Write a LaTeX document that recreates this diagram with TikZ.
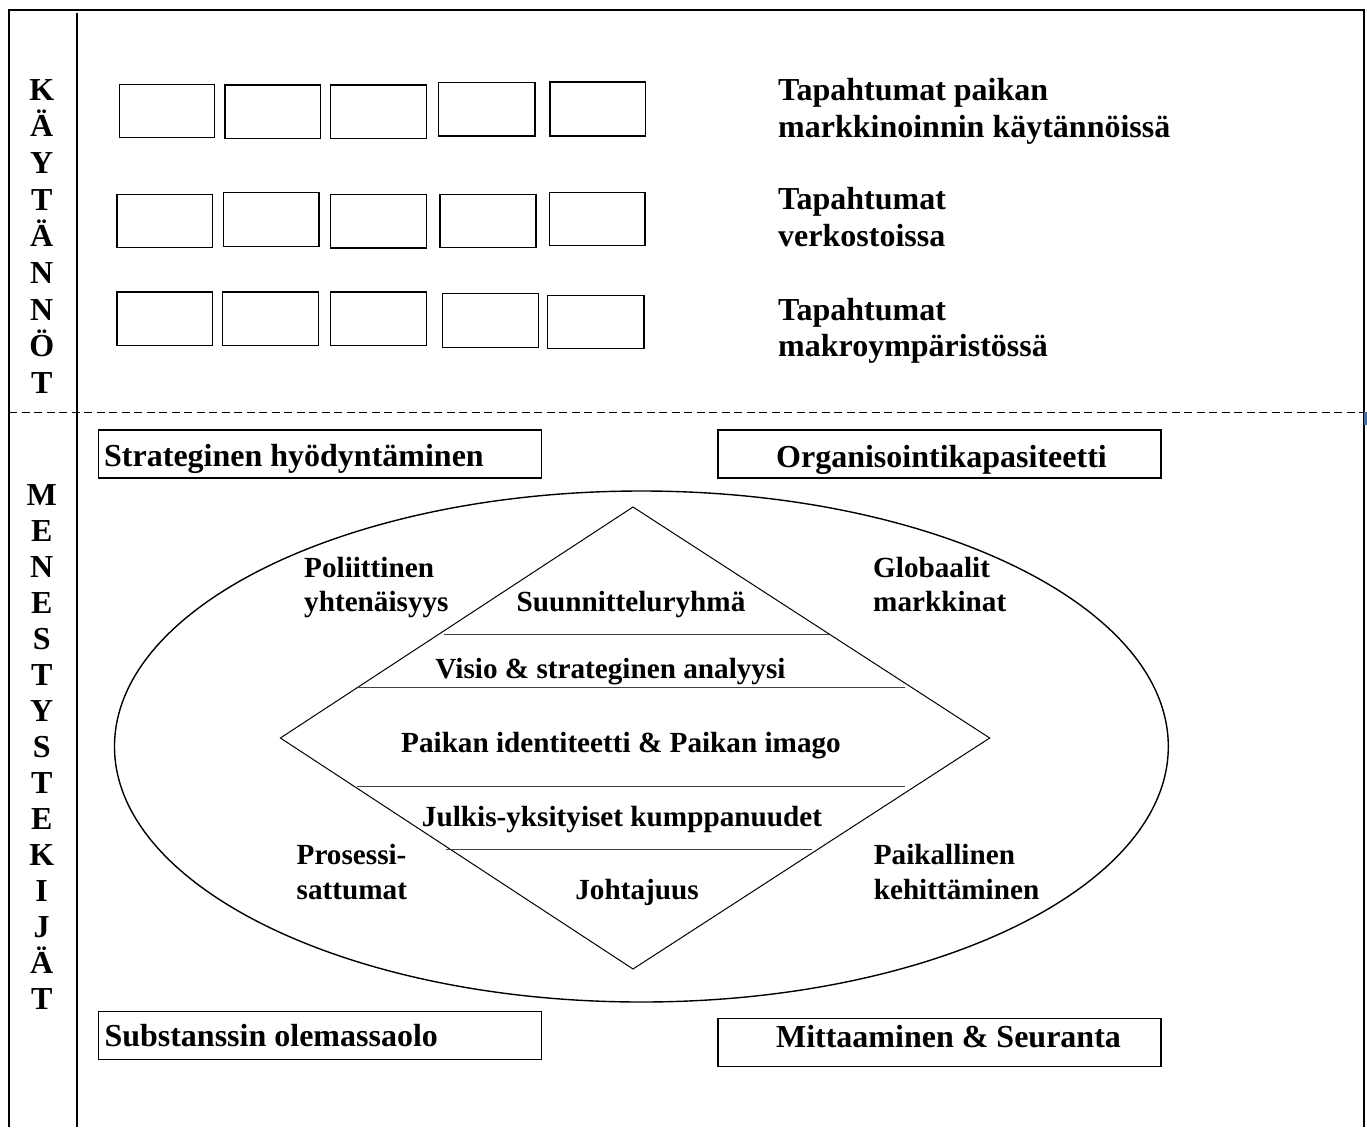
\documentclass[tikz,border=0pt]{standalone}
\usepackage{fontspec}
\setmainfont{Liberation Serif}
\usetikzlibrary{calc}
\definecolor{tickblue}{RGB}{70,105,160}
\begin{document}
\begin{tikzpicture}[x=1pt,y=-1pt,
  lbl/.style={font=\fontsize{32}{36}\selectfont\bfseries, inner sep=0pt, anchor=base west},
  clbl/.style={lbl, anchor=base},
  slbl/.style={font=\fontsize{29.2}{34}\selectfont\bfseries, inner sep=0pt, anchor=base west},
  sclbl/.style={slbl, anchor=base},
  ebox/.style={draw, line width=1.3pt},
  tbox/.style={draw, line width=1.3pt, minimum width=443pt, minimum height=48pt, anchor=north west, inner sep=0pt},
  divline/.style={black!75, line width=1pt}]
\useasboundingbox (0,0) rectangle (1367,1127);
\fill[white] (0,0) rectangle (1367,1127);

% frame and separators
\draw[line width=2pt] (9,1127) -- (9,10) -- (1364.3,10) -- (1364.3,1127);
\draw[line width=1.3pt] (77,13.3) -- (77,1127);
\draw[line width=1.3pt, dash pattern=on 8pt off 4.5pt] (9,412.7) -- (1364,412.7);
\fill[tickblue] (1363.8,411.7) rectangle (1366.8,425);

% vertical letters
\foreach \l [count=\i from 0] in {K,Ä,Y,T,Ä,N,N,Ö,T}
  \node[clbl] (ka\i) at (41.7,{100+36.67*\i}) {\l};
\foreach \l [count=\i from 0] in {M,E,N,E,S,T,Y,S,T,E,K,I,J,Ä,T}
  \node[clbl] (me\i) at (41.7,{505+36.07*\i}) {\l};

% empty boxes row 1
\draw[ebox] (119.3,84.3) rectangle (214.7,137.7);
\draw[ebox] (225,85) rectangle (320.7,138.3);
\draw[ebox] (330.3,85) rectangle (426.5,138.3);
\draw[ebox] (438.4,82.7) rectangle (534.9,136);
\draw[ebox] (550,82) rectangle (645.4,136);
% row 2
\draw[ebox] (117,194.3) rectangle (212.7,247.7);
\draw[ebox] (223.3,192.7) rectangle (319,246.3);
\draw[ebox] (330.3,194.7) rectangle (426.3,248);
\draw[ebox] (440,194.3) rectangle (536,247.7);
\draw[ebox] (549.4,192.7) rectangle (645,245.7);
% row 3
\draw[ebox] (117,292) rectangle (212.7,345.3);
\draw[ebox] (222.3,292) rectangle (318.3,345.3);
\draw[ebox] (330.3,292) rectangle (426.3,345.3);
\draw[ebox] (442.3,293.3) rectangle (538.3,347.3);
\draw[ebox] (547.5,295.3) rectangle (644,348.7);

% right texts
\node[lbl] (t1a) at (778,100.7) {Tapahtumat paikan};
\node[lbl] (t1b) at (778,137.3) {markkinoinnin käytännöissä};
\node[lbl] (t2a) at (778,209) {Tapahtumat};
\node[lbl] (t2b) at (778,246) {verkostoissa};
\node[lbl] (t3a) at (778,320) {Tapahtumat};
\node[lbl] (t3b) at (778,356.7) {makroympäristössä};

% labelled boxes
\node[tbox] (sh) at (98,429.3) {};
\node[lbl] (sht) at (104,466.7) {Strateginen hyödyntäminen};
\node[tbox] (ok) at (717.3,429.3) {};
\node[clbl] (okt) at (941.5,467.3) {Organisointikapasiteetti};
\node[tbox] (so) at (98,1011) {};
\node[lbl] (sot) at (104.3,1046) {Substanssin olemassaolo};
\node[tbox] (ms) at (717.3,1017.7) {};
\node[clbl] (mst) at (948.5,1047.3) {Mittaaminen \& Seuranta};

% ellipse
\draw[line width=1.4pt] (641.4,746.5) ellipse [x radius=526.9, y radius=255.5];

% diamond
\coordinate (dt) at (633,507);
\coordinate (dr) at (989.7,738);
\coordinate (db) at (633,969);
\coordinate (dl) at (280.4,738);
\draw[line width=1pt] (dt) -- (dr) -- (db) -- (dl) -- cycle;
\draw[divline] (444,634) -- (829,634);
\draw[divline] (359,687) -- (905,687);
\draw[divline] (357,786) -- (905,786);
\draw[divline] (446,849) -- (812,849);

% diamond texts
\node[sclbl] (d1) at (631,611) {Suunnitteluryhmä};
\node[sclbl] (d2) at (610.5,678) {Visio \& strateginen analyysi};
\node[sclbl] (d3) at (621,752) {Paikan identiteetti \& Paikan imago};
\node[sclbl] (d4) at (622,826) {Julkis-yksityiset kumppanuudet};
\node[sclbl] (d5) at (637,899) {Johtajuus};

% side texts
\node[slbl] (p1) at (304,577) {Poliittinen};
\node[slbl] (p2) at (304,611.7) {yhtenäisyys};
\node[slbl] (g1) at (873,577) {Globaalit};
\node[slbl] (g2) at (873,611.7) {markkinat};
\node[slbl] (r1) at (296.5,864) {Prosessi-};
\node[slbl] (r2) at (296.5,899) {sattumat};
\node[slbl] (k1) at (873.6,864) {Paikallinen};
\node[slbl] (k2) at (873.6,899) {kehittäminen};
\end{tikzpicture}
\end{document}
